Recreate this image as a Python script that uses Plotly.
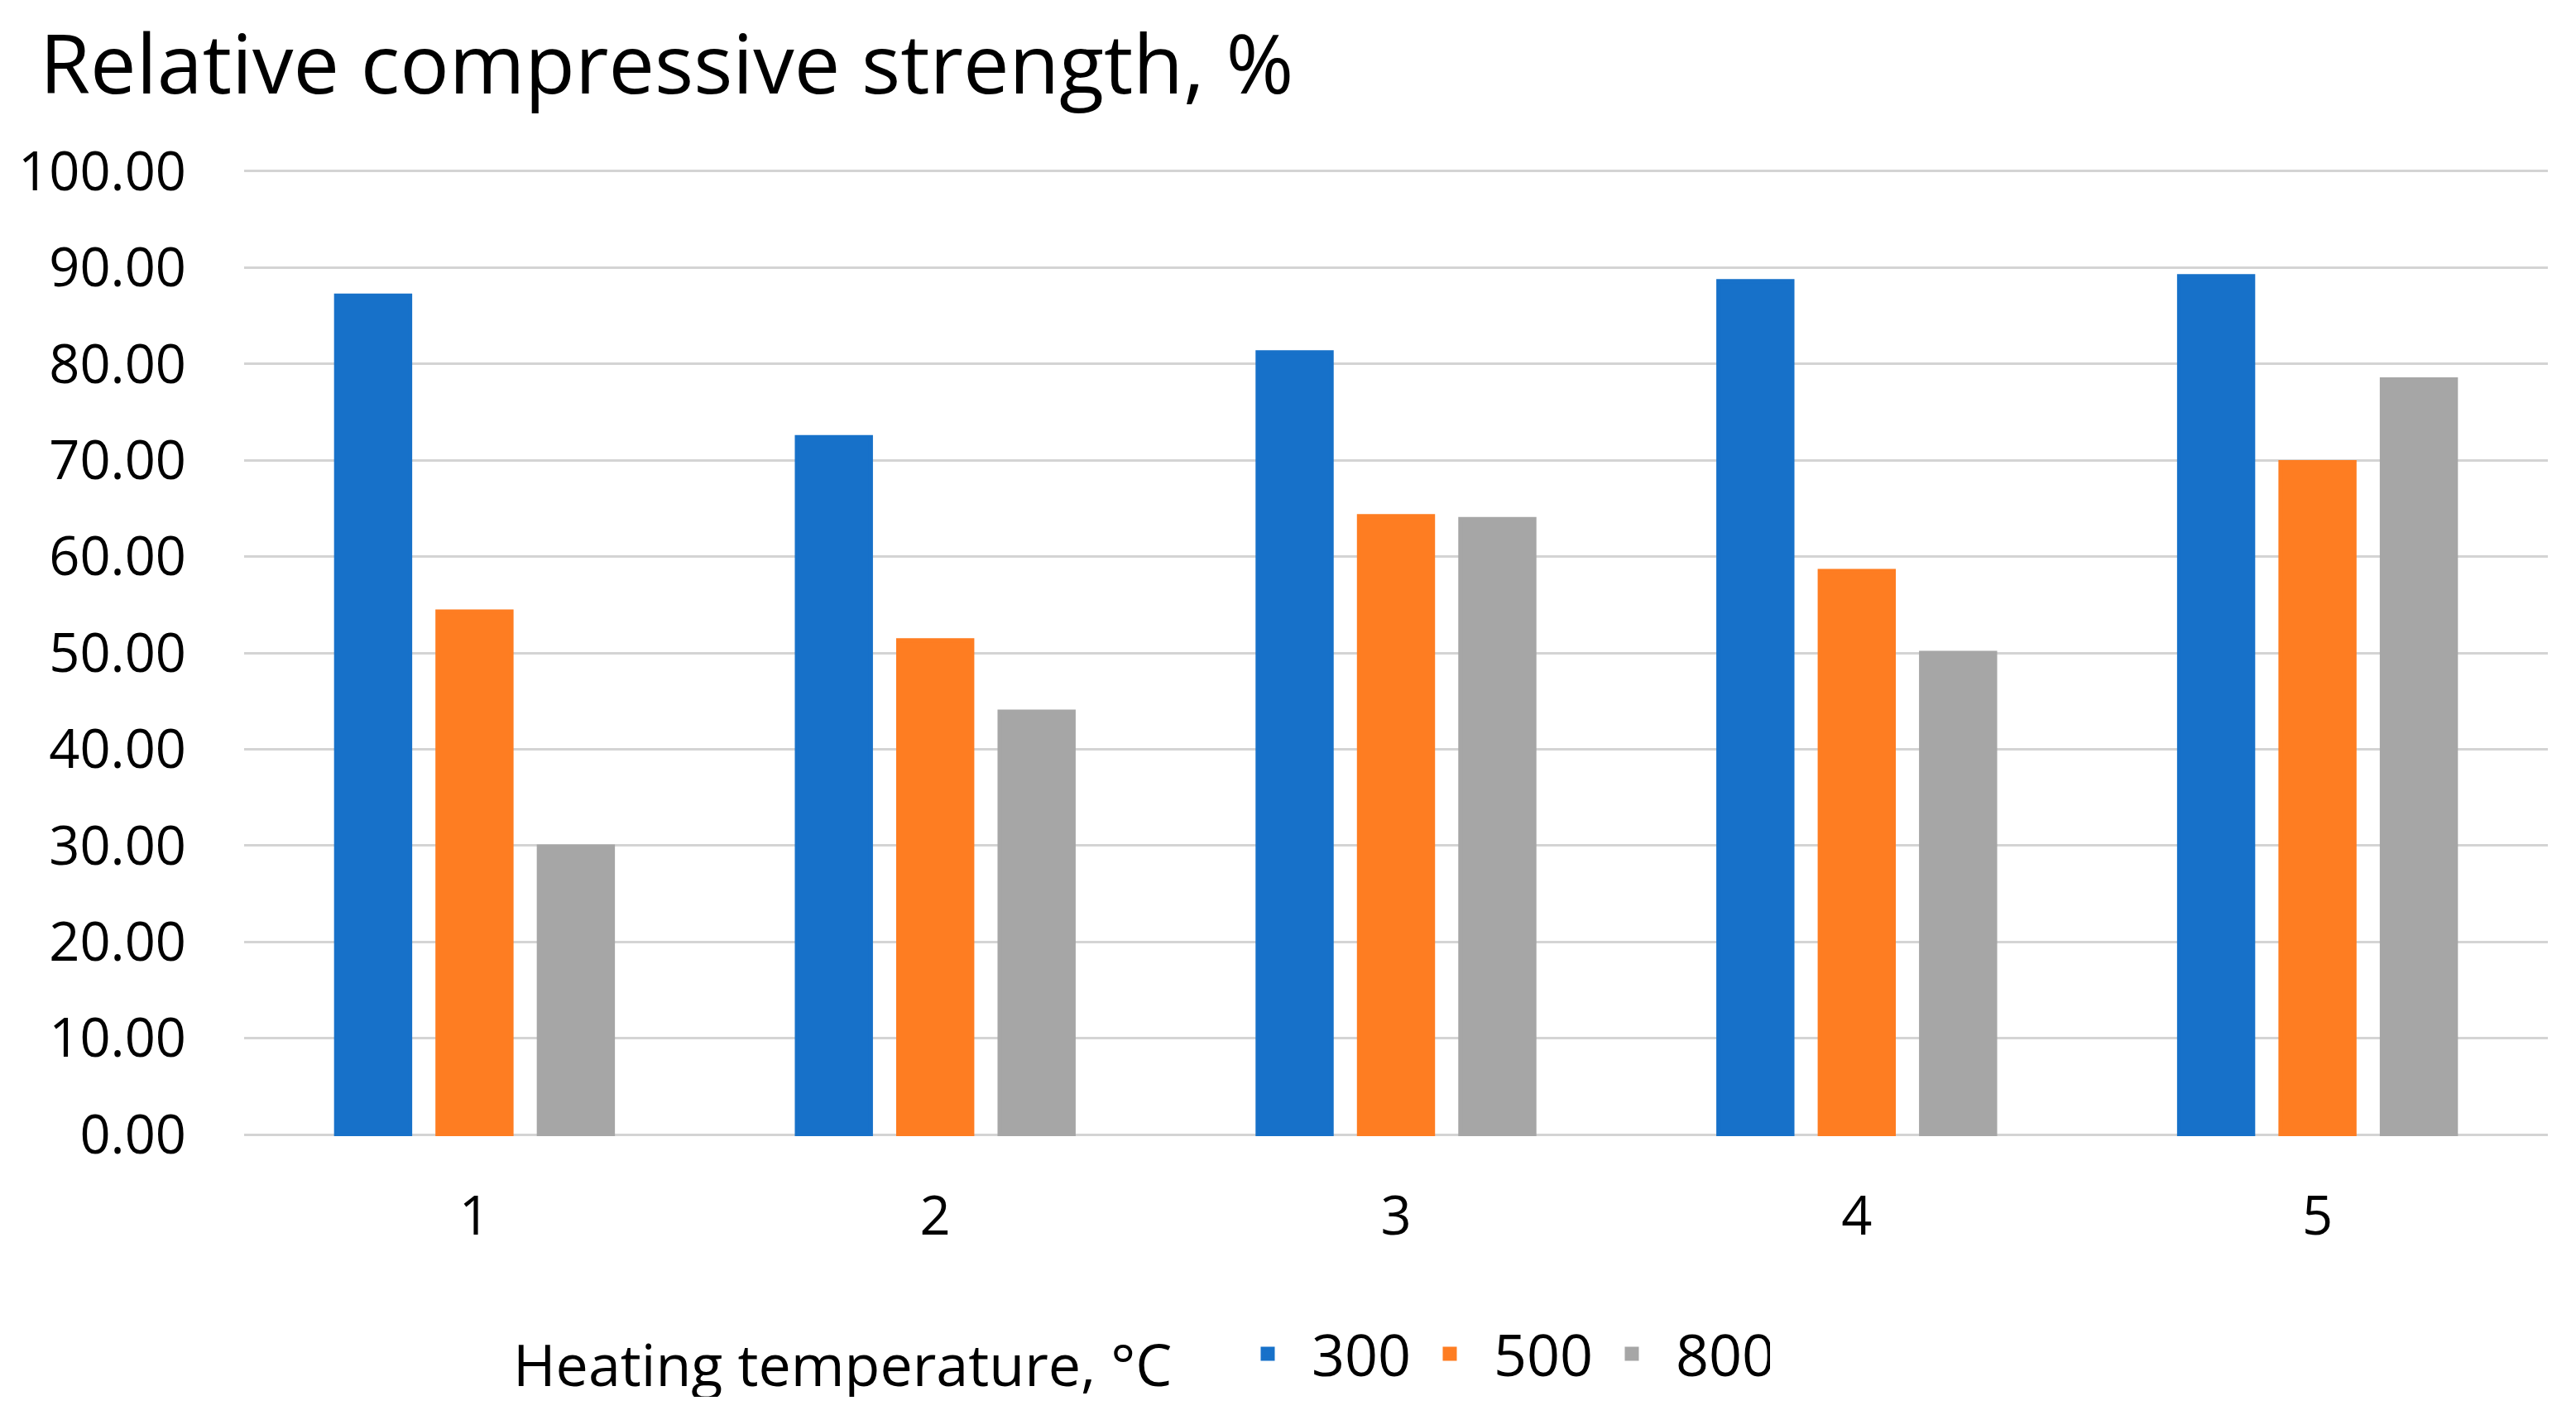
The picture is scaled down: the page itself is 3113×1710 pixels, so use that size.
import plotly.graph_objects as go

categories = ["1", "2", "3", "4", "5"]
series_names = ["300", "500", "800"]
values_300 = [87.1, 72.4, 81.2, 88.6, 89.1]
values_500 = [54.3, 51.3, 64.2, 58.5, 69.8]
values_800 = [29.9, 43.9, 63.9, 50.0, 78.4]
colors = ["#1771C9", "#FE7D22", "#A6A6A6"]
y_ticks = [0, 10, 20, 30, 40, 50, 60, 70, 80, 90, 100]

FONT = "Open Sans, Segoe UI, sans-serif"
# the page body adds an 8px margin, so the figure is 16px smaller than the window
W, H = 3097, 1694

fig = go.Figure()
for name, vals, col in zip(series_names, [values_300, values_500, values_800], colors):
    fig.add_trace(go.Bar(
        x=categories, y=vals, name=name,
        marker=dict(color=col, line=dict(color=col, width=5)),
    ))

fig.update_layout(
    width=W, height=H, autosize=False,
    margin=dict(l=287, r=26, t=197, b=329, pad=0),
    paper_bgcolor="white", plot_bgcolor="white",
    barmode="group", bargap=0.34, bargroupgap=0.27,
    font=dict(family=FONT, size=65, color="#000000"),
    title=dict(
        text="Relative compressive strength, %",
        font=dict(family=FONT, size=99, color="#000000"),
        xref="container", yref="container",
        x=40 / W, xanchor="left",
        y=1 - 70 / H, yanchor="middle",
    ),
    legend=dict(
        orientation="h",
        xref="container", yref="container",
        x=610 / W, xanchor="left",
        y=1 - 1628 / H, yanchor="middle",
        title=dict(text="Heating temperature, °C\u00a0\u00a0\u00a0", side="left",
                   font=dict(family=FONT, size=70, color="#000000")),
        font=dict(family=FONT, size=70, color="#000000"),
        itemwidth=96,
        entrywidth=109, entrywidthmode="pixels",
        bgcolor="rgba(0,0,0,0)",
    ),
    showlegend=True,
)

fig.update_xaxes(
    type="category", range=[-0.5, 4.5],
    showgrid=False, zeroline=False, showline=False,
    ticks="outside", ticklen=40, tickcolor="rgba(0,0,0,0)",
    tickfont=dict(family=FONT, size=65, color="#000000"),
)
fig.update_yaxes(
    range=[-0.17, 100.17], tickvals=y_ticks, tickformat=".2f",
    showgrid=True, gridcolor="#D4D4D4", gridwidth=3,
    zeroline=False, showline=False,
    ticks="outside", ticklen=56, tickcolor="rgba(0,0,0,0)",
    tickfont=dict(family=FONT, size=65, color="#000000"),
)

fig.write_html("out.html")
